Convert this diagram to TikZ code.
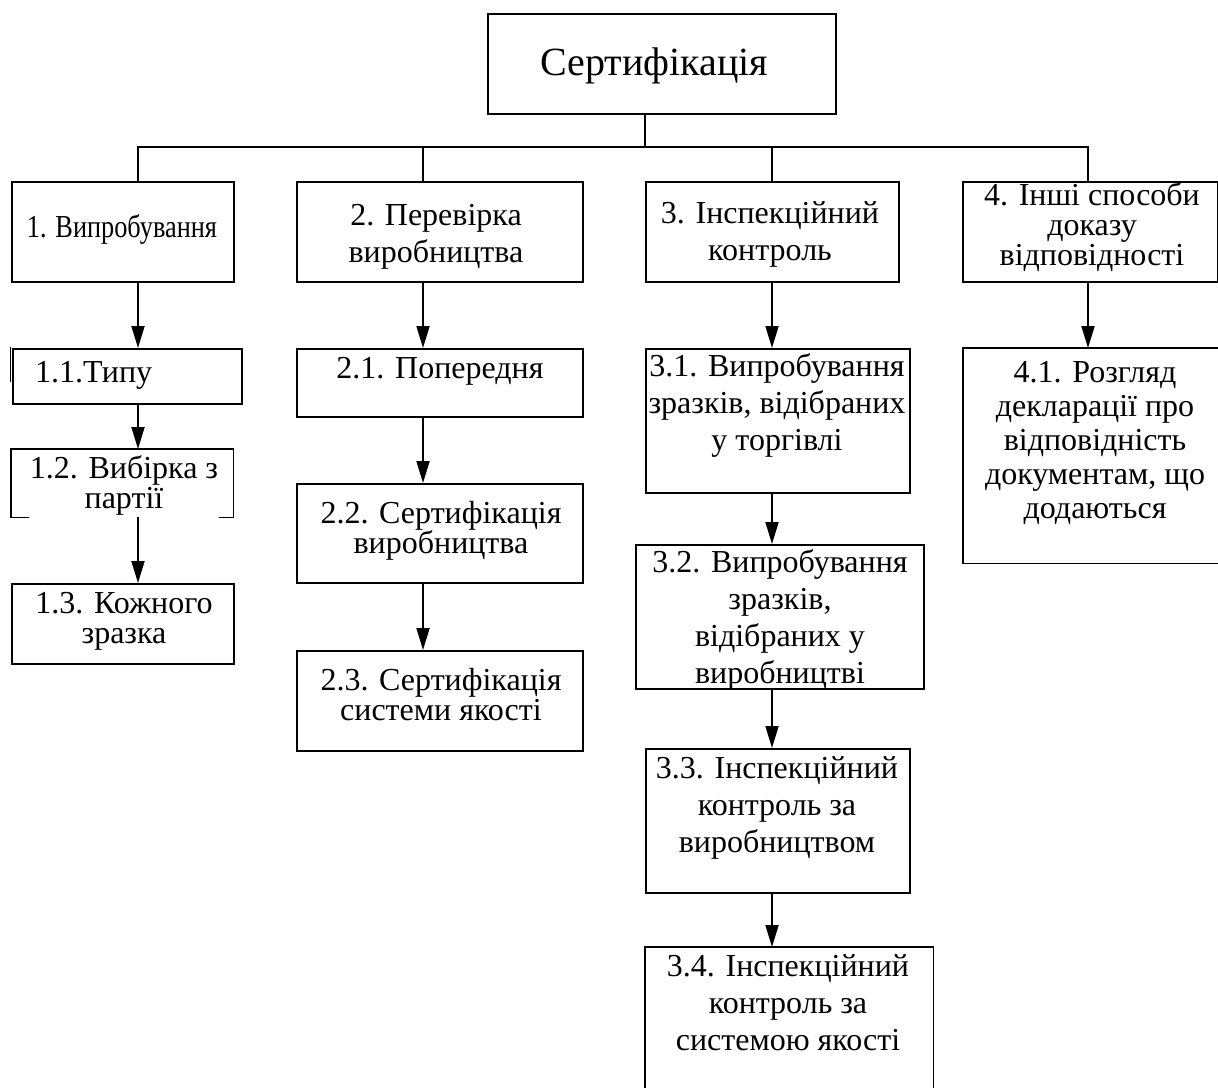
\documentclass[tikz,border=0pt]{standalone}
\usepackage{fontspec}
\setmainfont{Liberation Serif}
\usetikzlibrary{arrows.meta}
\begin{document}
\begin{tikzpicture}[x=1pt,y=-1pt,
  ln/.style={line width=1.8pt, line cap=rect},
  arr/.style={line width=1.8pt, -{Triangle[length=22pt,width=13pt]}},
  bx/.style={draw, line width=1.8pt, inner sep=0pt, anchor=north west, rectangle},
  hb/.style={inner sep=0pt, anchor=north west, rectangle},
  tA/.style={inner sep=0pt, anchor=base, align=center, font=\fontsize{32}{36.7}\selectfont},
  tB/.style={inner sep=0pt, anchor=base, align=center, font=\fontsize{32}{30}\selectfont},
  tC/.style={inner sep=0pt, anchor=base, align=center, font=\fontsize{32}{34}\selectfont}
]
\useasboundingbox (0,0) rectangle (1218,1087);
\fill[white] (0,0) rectangle (1218,1087);

% boxes
\node[bx, minimum width=348pt, minimum height=100pt] (T) at (487,13) {};
\node[bx, minimum width=222pt, minimum height=100pt] (B1) at (11,181) {};
\node[bx, minimum width=229pt, minimum height=55pt] (B11) at (12,348) {};
\node[hb, minimum width=222pt, minimum height=68pt] (B12) at (11,449) {};
\node[bx, minimum width=222pt, minimum height=80pt] (B13) at (11,583) {};
\node[bx, minimum width=286pt, minimum height=100pt] (B2) at (296,181) {};
\node[bx, minimum width=286pt, minimum height=68pt] (B21) at (296,348) {};
\node[bx, minimum width=286pt, minimum height=99pt] (B22) at (296,483) {};
\node[bx, minimum width=286pt, minimum height=100pt] (B23) at (296,650) {};
\node[bx, minimum width=253pt, minimum height=100pt] (B3) at (645,181) {};
\node[bx, minimum width=264pt, minimum height=144pt] (B31) at (645,348) {};
\node[bx, minimum width=288pt, minimum height=144pt] (B32) at (635,544) {};
\node[bx, minimum width=264pt, minimum height=144pt] (B33) at (645,748) {};
\node[hb, minimum width=288pt, minimum height=145pt] (B34) at (645,947) {};
\node[bx, minimum width=255pt, minimum height=100pt] (B4) at (962,181) {};
\node[hb, minimum width=256pt, minimum height=215pt] (B41) at (963,348) {};

% partial borders
\draw[ln] ([xshift=17pt]B12.south west) -- (B12.south west) -- (B12.north west)
  -- (B12.north east) -- (B12.south east) -- ([xshift=-14pt]B12.south east);
\draw[ln] (B34.south west) -- (B34.north west) -- (B34.north east) -- (B34.south east);
\draw[ln] (B41.north east) -- (B41.north west) -- (B41.south west) -- (B41.south east);
\draw[ln] ([xshift=-1.5pt]B11.north west) -- ([xshift=-1.5pt,yshift=-33pt]B11.north west);

% texts (anchor base = baseline of the last line)
\node[inner sep=0pt, anchor=base, font=\fontsize{40}{48}\selectfont] (tT) at (654,75) {Сертифікація};
\node[tA] (t1) at (122,237) {\resizebox{190pt}{\height}{1. Випробування}};
\node[inner sep=0pt, anchor=base west, font=\fontsize{32}{36.7}\selectfont] (t11) at (35,382) {1.1.Типу};
\node[tB] (t12) at (124,508) {1.2. Вибірка з\\партії};
\node[tB] (t13) at (124,643) {1.3. Кожного\\зразка};
\node[tA] (t2) at (436,262) {2. Перевірка\\виробництва};
\node[tA] (t21) at (440,378) {2.1. Попередня};
\node[tB] (t22) at (441,553) {2.2. Сертифікація\\виробництва};
\node[tB] (t23) at (441,720) {2.3. Сертифікація\\системи якості};
\node[tA] (t3) at (770,260) {3. Інспекційний\\контроль};
\node[tA] (t31) at (777,450) {3.1. Випробування\\зразків, відібраних\\у торгівлі};
\node[tA] (t32) at (780,683) {3.2. Випробування\\зразків,\\відібраних у\\виробництві};
\node[tA] (t33) at (777,852) {3.3. Інспекційний\\контроль за\\виробництвом};
\node[tA] (t34) at (788,1050) {3.4. Інспекційний\\контроль за\\системою якості};
\node[tB] (t4) at (1092,265) {4. Інші способи\\доказу\\відповідності};
\node[tC] (t41) at (1095,518) {4.1. Розгляд\\декларації про\\відповідність\\документам, що\\додаються};

% tree connectors
\coordinate (s) at (645,147);
\coordinate (c1) at (138,147);
\coordinate (c2) at (423,147);
\coordinate (c3) at (772,147);
\coordinate (c4) at (1088,147);
\draw[ln] (T.south -| s) -- (s);
\draw[ln] (c1) -- (c4);
\draw[ln] (c1) -- (B1.north -| c1);
\draw[ln] (c2) -- (B2.north -| c2);
\draw[ln] (c3) -- (B3.north -| c3);
\draw[ln] (c4) -- (B4.north -| c4);

% arrows
\draw[arr] (B1.south -| c1) -- (B11.north -| c1);
\draw[arr] (B11.south -| c1) -- (B12.north -| c1);
\draw[arr] (B12.south -| c1) -- (B13.north -| c1);
\draw[arr] (B2.south -| c2) -- (B21.north -| c2);
\draw[arr] (B21.south -| c2) -- (B22.north -| c2);
\draw[arr] (B22.south -| c2) -- (B23.north -| c2);
\draw[arr] (B3.south -| c3) -- (B31.north -| c3);
\draw[arr] (B31.south -| c3) -- (B32.north -| c3);
\draw[arr] (B32.south -| c3) -- (B33.north -| c3);
\draw[arr] (B33.south -| c3) -- (B34.north -| c3);
\draw[arr] (B4.south -| c4) -- (B41.north -| c4);
\end{tikzpicture}
\end{document}
